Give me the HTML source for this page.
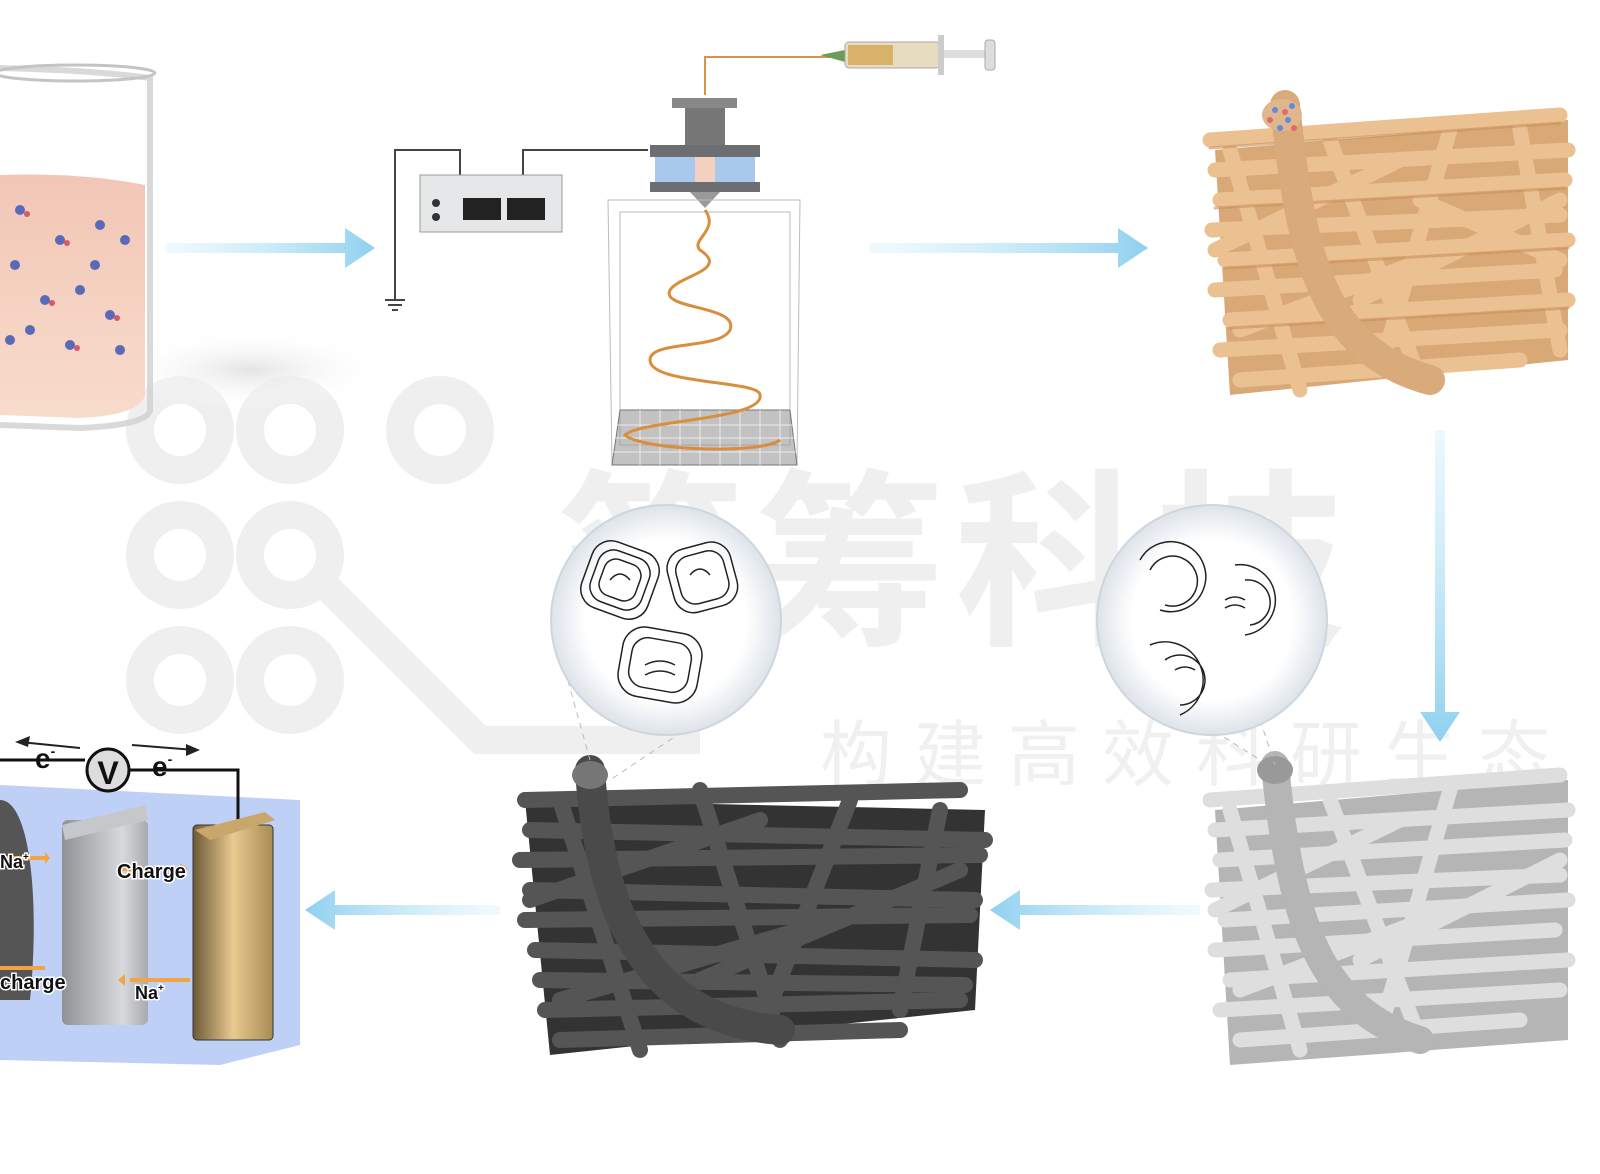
<!DOCTYPE html>
<html><head><meta charset="utf-8"><style>
html,body{margin:0;padding:0;background:#fff;}
svg{display:block;}
text{font-family:"Liberation Sans","Noto Sans CJK SC",sans-serif;}
</style></head><body>
<svg width="1600" height="1174" viewBox="0 0 1600 1174" xmlns="http://www.w3.org/2000/svg">
<defs>
<linearGradient id="arr" x1="0" x2="1"><stop offset="0" stop-color="#cfeefa" stop-opacity="0.3"/><stop offset="1" stop-color="#8fd0ef"/></linearGradient>
<linearGradient id="arrL" x1="1" x2="0"><stop offset="0" stop-color="#cfeefa" stop-opacity="0.3"/><stop offset="1" stop-color="#8fd0ef"/></linearGradient>
<linearGradient id="arrV" x1="0" x2="0" y1="0" y2="1"><stop offset="0" stop-color="#cfeefa" stop-opacity="0.4"/><stop offset="1" stop-color="#8fd0ef"/></linearGradient>
<linearGradient id="liq" x1="0" x2="0" y1="0" y2="1"><stop offset="0" stop-color="#f2c6b6"/><stop offset="1" stop-color="#f8dccb"/></linearGradient>
<linearGradient id="gold" x1="0" x2="1"><stop offset="0" stop-color="#6e5a38"/><stop offset="0.5" stop-color="#e8c98f"/><stop offset="1" stop-color="#a98b55"/></linearGradient>
<linearGradient id="gr" x1="0" x2="1"><stop offset="0" stop-color="#8f9194"/><stop offset="0.7" stop-color="#d8d9dc"/><stop offset="1" stop-color="#a8aaad"/></linearGradient>
<radialGradient id="bub"><stop offset="0.7" stop-color="#fff"/><stop offset="1" stop-color="#dde3ea"/></radialGradient>
<radialGradient id="shd"><stop offset="0" stop-color="#e4e4e4"/><stop offset="1" stop-color="#fff" stop-opacity="0"/></radialGradient>
</defs>

<!-- watermark -->
<g fill="none" stroke="#efefef" stroke-width="28">
<circle cx="180" cy="430" r="40"/><circle cx="290" cy="430" r="40"/><circle cx="440" cy="430" r="40"/>
<circle cx="180" cy="555" r="40"/><circle cx="290" cy="555" r="40"/>
<circle cx="180" cy="680" r="40"/><circle cx="290" cy="680" r="40"/>
<path d="M320 580 L480 740 L700 740"/>
</g>
<text x="555" y="630" font-size="190" font-weight="bold" fill="#efefef" letter-spacing="10">简筹科技</text>
<text x="820" y="780" font-size="72" fill="#f0f0f0" letter-spacing="22">构建高效科研生态</text>

<!-- beaker -->
<ellipse cx="250" cy="370" rx="140" ry="40" fill="url(#shd)"/>
<path d="M0 175 Q80 172 145 185 L145 395 Q140 415 80 418 L0 415Z" fill="url(#liq)"/>
<path d="M0 68 Q90 70 150 78 L150 410 Q148 425 80 428 L0 425" fill="none" stroke="#d0d0d0" stroke-width="6" opacity="0.8"/>
<ellipse cx="75" cy="73" rx="80" ry="8" fill="none" stroke="#c4c4c4" stroke-width="3"/>
<g fill="#5a6ab8">
<circle cx="20" cy="210" r="5"/><circle cx="60" cy="240" r="5"/><circle cx="100" cy="225" r="5"/><circle cx="125" cy="240" r="5"/><circle cx="15" cy="265" r="5"/><circle cx="45" cy="300" r="5"/><circle cx="80" cy="290" r="5"/><circle cx="110" cy="315" r="5"/><circle cx="30" cy="330" r="5"/><circle cx="70" cy="345" r="5"/><circle cx="120" cy="350" r="5"/><circle cx="95" cy="265" r="5"/><circle cx="10" cy="340" r="5"/>
</g>
<g fill="#d85a6a"><circle cx="27" cy="214" r="3"/><circle cx="67" cy="243" r="3"/><circle cx="52" cy="303" r="3"/><circle cx="117" cy="318" r="3"/><circle cx="77" cy="348" r="3"/></g>

<!-- arrows -->
<path d="M165 243 H345 V228 L375 248 L345 268 V253 H165Z" fill="url(#arr)"/>
<path d="M870 243 H1118 V228 L1148 248 L1118 268 V253 H870Z" fill="url(#arr)"/>
<path d="M1435 430 V712 H1420 L1440 742 L1460 712 H1445 V430Z" fill="url(#arrV)"/>
<path d="M1200 905 H1020 V890 L990 910 L1020 930 V915 H1200Z" fill="url(#arrL)"/>
<path d="M500 905 H335 V890 L305 910 L335 930 V915 H500Z" fill="url(#arrL)"/>

<!-- power supply -->
<path d="M460 175 V150 H395 V300 M385 300 H405 M388 305 H402 M392 310 H398" fill="none" stroke="#444" stroke-width="2"/>
<path d="M523 175 V150 H648" fill="none" stroke="#444" stroke-width="2"/>
<rect x="420" y="175" width="142" height="57" fill="#e6e7e9" stroke="#999"/>
<rect x="463" y="198" width="38" height="22" fill="#222"/><rect x="507" y="198" width="38" height="22" fill="#222"/>
<circle cx="436" cy="203" r="4" fill="#333"/><circle cx="436" cy="217" r="4" fill="#333"/>

<!-- syringe -->
<path d="M705 95 V57 H830" fill="none" stroke="#d9924a" stroke-width="2"/>
<path d="M820 55 L845 50 V62 Z" fill="#6b9c5a"/>
<rect x="845" y="42" width="95" height="26" rx="4" fill="#e8dcc0" stroke="#aaa"/>
<rect x="848" y="45" width="45" height="20" fill="#d8b26a"/>
<rect x="940" y="50" width="45" height="8" fill="#ddd"/><rect x="938" y="35" width="6" height="40" fill="#ccc"/><rect x="985" y="40" width="10" height="30" rx="3" fill="#ddd" stroke="#aaa"/>

<!-- nozzle -->
<rect x="672" y="98" width="65" height="10" fill="#888"/>
<rect x="685" y="108" width="40" height="40" fill="#777"/>
<rect x="650" y="145" width="110" height="12" fill="#6c6e72"/>
<rect x="655" y="157" width="100" height="25" fill="#a8c8ec"/>
<rect x="695" y="157" width="20" height="25" fill="#f3d0c0"/>
<rect x="650" y="182" width="110" height="10" fill="#6c6e72"/>
<path d="M690 192 L720 192 L705 208Z" fill="#999"/>

<!-- box -->
<path d="M608 200 H800 L797 465 H612Z M620 212 H790 V445 H620Z" fill="none" stroke="#bbb"/>
<path d="M620 410 H790 L797 465 H612Z" fill="#999" opacity="0.6"/>
<path d="M620 410 H790 L797 465 H612Z" fill="none" stroke="#777"/>
<g stroke="#fff" stroke-width="1" opacity="0.7">
<path d="M615 425H795M614 438H796M613 452H797M640 410V465M660 410V465M680 410V465M700 410V465M720 410V465M740 410V465M760 410V465M780 410V465"/></g>
<path d="M705 210 C720 230 690 240 700 250 C730 270 680 275 670 290 C660 310 740 305 730 330 C720 350 650 340 650 360 C650 385 760 380 760 395 C765 420 640 420 625 435 C640 450 760 455 780 440" fill="none" stroke="#d88e3e" stroke-width="3"/>

<!-- orange fibers -->
<g stroke-linecap="round" fill="none">
<path d="M1215 150 L1568 120 L1568 360 L1230 395 Z" fill="#d9a877" stroke="none"/>
<g stroke="#ecc191" stroke-width="15">
<path d="M1210 140 L1560 115"/><path d="M1215 170 L1568 150"/><path d="M1220 200 L1565 180"/><path d="M1212 230 L1560 215"/><path d="M1225 260 L1568 240"/><path d="M1215 290 L1555 270"/><path d="M1230 320 L1568 300"/><path d="M1220 350 L1560 330"/><path d="M1240 380 L1520 360"/>
<path d="M1230 150 L1300 390"/><path d="M1330 140 L1420 380"/><path d="M1450 130 L1380 370"/><path d="M1520 130 L1560 350"/>
<path d="M1215 250 L1400 160"/><path d="M1360 300 L1560 200"/><path d="M1240 330 L1450 250"/><path d="M1420 200 L1560 260"/>
</g>
<g stroke="#c8905c" stroke-width="3" opacity="0.6">
<path d="M1210 148 L1560 123"/><path d="M1215 208 L1565 188"/><path d="M1225 268 L1568 248"/><path d="M1230 328 L1568 308"/>
</g>
<path d="M1285 105 C1300 250 1320 350 1430 380" stroke="#d9aa7a" stroke-width="30"/>
<ellipse cx="1282" cy="115" rx="20" ry="16" fill="#e0b78c"/>
</g>
<g fill="#5d8be0"><circle cx="1275" cy="110" r="3"/><circle cx="1288" cy="120" r="3"/><circle cx="1280" cy="128" r="3"/><circle cx="1292" cy="106" r="3"/></g>
<g fill="#e06a6a"><circle cx="1270" cy="120" r="3"/><circle cx="1285" cy="112" r="3"/><circle cx="1294" cy="128" r="3"/></g>

<!-- gray fibers -->
<g stroke-linecap="round" fill="none">
<path d="M1215 810 L1568 780 L1568 1040 L1230 1065 Z" fill="#b5b5b5"/>
<g stroke="#dedede" stroke-width="15">
<path d="M1210 800 L1560 775"/><path d="M1215 830 L1568 810"/><path d="M1220 860 L1565 840"/><path d="M1212 890 L1560 875"/><path d="M1225 920 L1568 900"/><path d="M1215 950 L1555 930"/><path d="M1230 980 L1568 960"/><path d="M1220 1010 L1560 990"/><path d="M1240 1040 L1520 1020"/>
<path d="M1230 810 L1300 1050"/><path d="M1330 800 L1420 1040"/><path d="M1450 790 L1380 1030"/>
<path d="M1215 910 L1400 820"/><path d="M1360 960 L1560 860"/><path d="M1240 990 L1450 910"/>
</g>
<path d="M1275 765 C1290 920 1320 1010 1420 1040" stroke="#b5b5b5" stroke-width="28"/>
<ellipse cx="1275" cy="770" rx="18" ry="14" fill="#999"/>
</g>

<!-- dark fibers -->
<g stroke-linecap="round" fill="none">
<path d="M525 800 L985 810 L975 1010 L550 1055 Z" fill="#333"/>
<g stroke="#555" stroke-width="16">
<path d="M525 800 L960 790"/><path d="M530 830 L985 840"/><path d="M520 860 L980 855"/><path d="M530 890 L975 900"/><path d="M525 920 L970 915"/><path d="M535 950 L975 960"/><path d="M540 980 L965 985"/><path d="M545 1010 L960 1000"/><path d="M560 1040 L900 1030"/>
<path d="M560 800 L640 1050"/><path d="M700 790 L780 1040"/><path d="M850 800 L760 1030"/><path d="M940 810 L900 1010"/>
<path d="M530 900 L760 820"/><path d="M700 980 L960 870"/><path d="M560 1000 L800 930"/>
</g>
<path d="M590 770 C600 920 650 1020 780 1030" stroke="#4a4a4a" stroke-width="30"/>
<ellipse cx="590" cy="775" rx="18" ry="14" fill="#777"/>
</g>

<!-- zoom circles -->
<path d="M565 670 L590 760 M700 720 L610 780" stroke="#bbb" stroke-dasharray="6 5" fill="none"/>
<path d="M1150 690 L1260 760 M1260 720 L1275 765" stroke="#bbb" stroke-dasharray="6 5" fill="none"/>
<circle cx="666" cy="620" r="115" fill="url(#bub)" stroke="#cfd5dd" stroke-width="2"/>
<circle cx="1212" cy="620" r="115" fill="url(#bub)" stroke="#cfd5dd" stroke-width="2"/>
<g fill="none" stroke="#222" stroke-width="1.5">
<rect x="585" y="545" width="70" height="70" rx="20" transform="rotate(20 620 580)"/>
<rect x="593" y="553" width="54" height="54" rx="16" transform="rotate(20 620 580)"/>
<rect x="601" y="561" width="38" height="38" rx="12" transform="rotate(20 620 580)"/>
<rect x="670" y="545" width="65" height="65" rx="20" transform="rotate(-15 702 578)"/>
<rect x="678" y="553" width="49" height="49" rx="15" transform="rotate(-15 702 578)"/>
<rect x="620" y="630" width="80" height="70" rx="22" transform="rotate(10 660 665)"/>
<rect x="630" y="640" width="60" height="50" rx="16" transform="rotate(10 660 665)"/>
<path d="M645 665 q15 -8 30 0 M645 675 q15 -8 30 0 M610 580 q10 -12 20 0 M690 575 q10 -12 20 0"/>
<path d="M1140 560 a35 35 0 1 1 20 50 M1150 570 a25 25 0 1 1 15 35 M1235 565 a35 35 0 1 1 10 70 M1245 580 a22 22 0 1 1 5 45 M1150 645 a38 38 0 1 1 30 70 M1165 660 a25 25 0 1 1 15 45 M1225 600 q10 -6 20 0 M1225 608 q10 -6 20 0 M1175 670 q10 -6 20 0"/>
</g>

<!-- battery -->
<path d="M0 785 L300 800 L300 1045 L220 1065 L0 1060 Z" fill="#b4c8f6" opacity="0.85"/>
<path d="M0 760 H85 M128 770 H238 V825" fill="none" stroke="#111" stroke-width="3"/>
<circle cx="108" cy="770" r="21" fill="#ddd" stroke="#111" stroke-width="3"/>
<text x="108" y="784" font-size="32" font-weight="bold" text-anchor="middle" fill="#111">V</text>
<path d="M80 748 L20 742 M132 745 L195 750" stroke="#222" stroke-width="2"/>
<path d="M15 742 L30 736 L28 747Z M200 750 L186 744 L186 756Z" fill="#222"/>
<text x="35" y="768" font-size="28" font-weight="bold" fill="#111">e<tspan font-size="14" dy="-12">-</tspan></text>
<text x="152" y="776" font-size="28" font-weight="bold" fill="#111">e<tspan font-size="14" dy="-12">-</tspan></text>
<path d="M0 800 C30 800 40 900 30 1000 L0 1000Z" fill="#555"/>
<rect x="62" y="820" width="86" height="205" rx="6" fill="url(#gr)"/>
<path d="M62 825 L145 805 L148 820 L65 840Z" fill="#c6c7ca"/>
<rect x="193" y="825" width="80" height="215" rx="4" fill="url(#gold)" stroke="#333" stroke-width="1"/>
<path d="M195 830 L265 812 L275 820 L210 840Z" fill="#c9a66a"/>
<path d="M0 858 H45 M122 869 H180 M190 980 H130 M0 968 H45" stroke="#f0a540" stroke-width="4"/>
<path d="M45 852 L50 858 L45 864Z M180 863 L188 869 L180 875Z M125 974 L118 980 L125 986Z" fill="#f0a540"/>
<g font-weight="bold" fill="#111" stroke="#fff" stroke-width="3" paint-order="stroke">
<text x="0" y="868" font-size="18">Na<tspan font-size="10" dy="-8">+</tspan></text>
<text x="117" y="878" font-size="20">Charge</text>
<text x="0" y="989" font-size="20">charge</text>
<text x="135" y="999" font-size="18">Na<tspan font-size="10" dy="-8">+</tspan></text>
</g>
</svg>
</body></html>
